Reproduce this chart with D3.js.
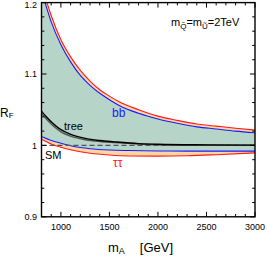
<!DOCTYPE html>
<html>
<head>
<meta charset="utf-8">
<script src="https://cdn.jsdelivr.net/npm/d3@7"></script>
<style>
  body { margin: 0; background: #fff; }
  text { font-family: "Liberation Sans", Arial, sans-serif; }
</style>
</head>
<body>
<svg></svg>
<script>
// set data

const mA = [800, 850, 900, 1000, 1100, 1200, 1300, 1400, 1500, 1600, 1800, 2000, 2200, 2400, 2600, 2800, 3000];
const bbRed  = [1.229, 1.203, 1.182, 1.148, 1.124, 1.105, 1.090, 1.078, 1.069, 1.061, 1.050, 1.041, 1.035, 1.030, 1.027, 1.024, 1.0215];
const bbBlue = [1.218, 1.194, 1.173, 1.141, 1.117, 1.098, 1.084, 1.073, 1.064, 1.056, 1.045, 1.037, 1.031, 1.026, 1.023, 1.020, 1.0177];

const mLow = [800, 900, 1000, 1100, 1200, 1300, 1500, 1700, 2000, 2300, 2600, 3000];
const tauBlue = [1.0125, 1.007, 1.003, 0.9995, 0.997, 0.9953, 0.9935, 0.9928, 0.9922, 0.992, 0.992, 0.992];
const tauRed  = [1.0085, 1.002, 0.9975, 0.994, 0.9912, 0.989, 0.9865, 0.9852, 0.985, 0.9855, 0.987, 0.9895];

const mTree = [800, 850, 900, 950, 1000, 1100, 1250, 1400, 1550, 1800, 2000, 2500, 3000];
const tree1 = [1.048, 1.040, 1.033, 1.027, 1.022, 1.0155, 1.0098, 1.0068, 1.005, 1.0025, 1.0016, 1.0008, 1.0004];
const tree2 = [1.045, 1.037, 1.030, 1.024, 1.019, 1.013, 1.008, 1.0055, 1.004, 1.002, 1.001, 1.0002, 1.0];

const xTicks = [1000, 1500, 2000, 2500, 3000];
const yTicks = [0.9, 1, 1.1, 1.2];

// set dimensions

const width = 267, height = 259;
const margin = { left: 41.5, right: 255, top: 2.6, bottom: 216.8 };

const svg = d3.select("svg")
              .attr("width", width)
              .attr("height", height);

// create scales

const x = d3.scaleLinear().domain([800, 3000]).range([margin.left, margin.right]);
const y = d3.scaleLinear().domain([0.9, 1.2]).range([margin.bottom, margin.top]);

svg.append("clipPath").attr("id", "clip")
   .append("rect")
   .attr("x", margin.left).attr("y", margin.top)
   .attr("width", margin.right - margin.left).attr("height", margin.bottom - margin.top);

const plot = svg.append("g").attr("clip-path", "url(#clip)");

const zip = (ms, a, b) => ms.map((m, i) => ({ m: m, y0: a[i], y1: b ? b[i] : a[i] }));

const area = d3.area()
               .x(d => x(d.m))
               .y0(d => y(d.y0))
               .y1(d => y(d.y1))
               .curve(d3.curveMonotoneX);

const line = d3.line()
               .x(d => x(d.m))
               .y(d => y(d.y0))
               .curve(d3.curveMonotoneX);

// green band between bb (blue) and tautau (blue), on a common grid

const grid = d3.range(800, 3001, 25);
const interp = (ms, vs) => d3.scaleLinear().domain(ms).range(vs);
const bbB = interp(mA, bbBlue), tauB = interp(mLow, tauBlue);

plot.append("path")
    .datum(grid.map(m => ({ m: m, y0: tauB(m), y1: bbB(m) })))
    .attr("fill", "#b7d4c8")
    .attr("d", area);

// peach bands

plot.append("path")
    .datum(zip(mA, bbBlue, bbRed))
    .attr("fill", "#f9d6a2")
    .attr("d", area);

plot.append("path")
    .datum(zip(mLow, tauRed, tauBlue))
    .attr("fill", "#f9d6a2")
    .attr("d", area);

// lines

const lines = [
  [mA, bbRed, "#ff1a1a"],
  [mA, bbBlue, "#1a1aff"],
  [mLow, tauBlue, "#1a1aff"],
  [mLow, tauRed, "#ff1a1a"]
];

lines.forEach(l => {
  plot.append("path")
      .datum(zip(l[0], l[1]))
      .attr("fill", "none")
      .attr("stroke", l[2])
      .attr("stroke-width", 1.1)
      .attr("d", line);
});

// SM dashed line

plot.append("line")
    .attr("x1", margin.left).attr("x2", margin.right)
    .attr("y1", y(1)).attr("y2", y(1))
    .attr("stroke", "#555")
    .attr("stroke-width", 1.1)
    .attr("stroke-dasharray", "5,3");

// tree lines

plot.append("path")
    .datum(zip(mTree, tree2))
    .attr("fill", "none")
    .attr("stroke", "#555")
    .attr("stroke-width", 1.4)
    .attr("d", line);

plot.append("path")
    .datum(zip(mTree, tree1))
    .attr("fill", "none")
    .attr("stroke", "#000")
    .attr("stroke-width", 1.4)
    .attr("d", line);

// frame with inward ticks on all four sides

const frame = svg.append("g");

frame.append("rect")
     .attr("x", margin.left).attr("y", margin.top)
     .attr("width", margin.right - margin.left).attr("height", margin.bottom - margin.top)
     .attr("fill", "none")
     .attr("stroke", "#000")
     .attr("stroke-width", 1.4);

const xMinor = d3.range(800, 3001, 100);
const yMinor = d3.range(0, 16).map(i => 0.9 + i * 0.02);

xMinor.forEach(v => {
  const len = v % 500 === 0 ? 5 : 2.8;
  frame.append("line").attr("x1", x(v)).attr("x2", x(v)).attr("y1", margin.bottom).attr("y2", margin.bottom - len).attr("stroke", "#000");
  frame.append("line").attr("x1", x(v)).attr("x2", x(v)).attr("y1", margin.top).attr("y2", margin.top + len).attr("stroke", "#000");
});

yMinor.forEach(v => {
  const major = yTicks.some(t => Math.abs(t - v) < 1e-6);
  const len = major ? 5 : 2.8;
  frame.append("line").attr("x1", margin.left).attr("x2", margin.left + len).attr("y1", y(v)).attr("y2", y(v)).attr("stroke", "#000");
  frame.append("line").attr("x1", margin.right).attr("x2", margin.right - len).attr("y1", y(v)).attr("y2", y(v)).attr("stroke", "#000");
});

// tick labels

svg.selectAll(".xlab")
   .data(xTicks)
   .enter()
   .append("text")
   .attr("x", d => x(d))
   .attr("y", 230)
   .attr("text-anchor", "middle")
   .attr("font-size", 9)
   .text(d => d);

svg.selectAll(".ylab")
   .data(yTicks)
   .enter()
   .append("text")
   .attr("x", 37)
   .attr("y", d => Math.max(8, y(d) + 3.3))
   .attr("text-anchor", "end")
   .attr("font-size", 9)
   .text(d => d);

// axis titles

const xt = svg.append("text").attr("x", 108).attr("y", 252).attr("font-size", 13);
xt.append("tspan").text("m");
xt.append("tspan").attr("font-size", 9).attr("dy", 2).text("A");
xt.append("tspan").attr("dy", -2).attr("dx", 15).text("[GeV]");

const yt = svg.append("text").attr("x", 0).attr("y", 117).attr("font-size", 12);
yt.append("tspan").text("R");
yt.append("tspan").attr("font-size", 8).attr("dy", 1).text("F");

// curve labels

svg.append("text").attr("x", 112).attr("y", 117).attr("font-size", 12).attr("fill", "#1a1aff").text("bb");
svg.append("text").attr("x", 64).attr("y", 130).attr("font-size", 11).attr("fill", "#000").text("tree");
svg.append("text").attr("x", 45).attr("y", 159).attr("font-size", 11).attr("fill", "#000").text("SM");
svg.append("text").attr("x", 113).attr("y", 167).attr("font-size", 12).attr("fill", "#ff1a1a").text("ττ");

// parameter label

const pt = svg.append("text").attr("x", 171).attr("y", 26).attr("font-size", 11);
pt.append("tspan").text("m");
pt.append("tspan").attr("font-size", 8).attr("dy", 2.5).text("Q\u0303");
pt.append("tspan").attr("dy", -2.5).text("=m");
pt.append("tspan").attr("font-size", 8).attr("dy", 2.5).text("\u0168");
pt.append("tspan").attr("dy", -2.5).text("=2TeV");
</script>
</body>
</html>
